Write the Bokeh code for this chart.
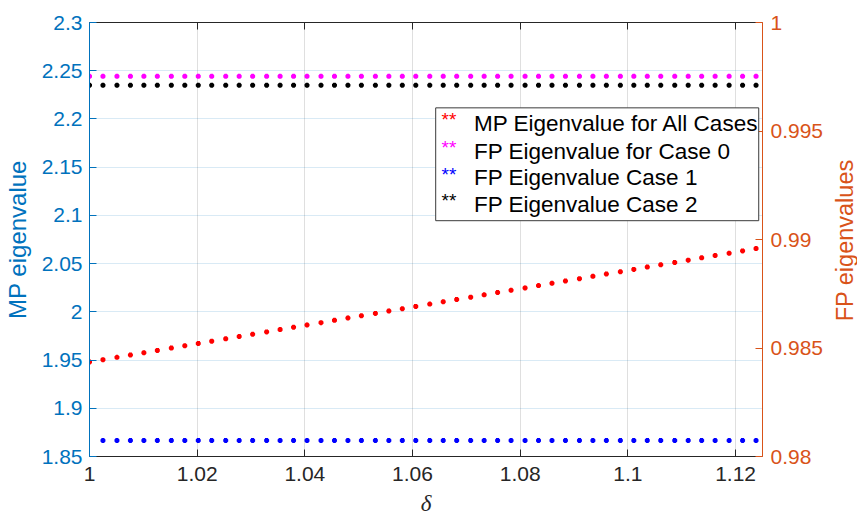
import math
from bokeh.plotting import figure
from bokeh.layouts import row
from bokeh.models import Range1d, LinearAxis, FixedTicker, CustomJSTickFormatter, BoxAnnotation, Label
from bokeh.core.properties import value
from bokeh.embed import file_html
from bokeh.resources import INLINE

# ---- data ----
delta = [1.0000, 1.0025, 1.0051, 1.0076, 1.0101, 1.0126, 1.0152, 1.0177, 1.0202, 1.0227,
         1.0253, 1.0278, 1.0303, 1.0329, 1.0354, 1.0379, 1.0404, 1.0430, 1.0455, 1.0480,
         1.0505, 1.0531, 1.0556, 1.0581, 1.0606, 1.0632, 1.0657, 1.0682, 1.0708, 1.0733,
         1.0758, 1.0783, 1.0809, 1.0834, 1.0859, 1.0884, 1.0910, 1.0935, 1.0960, 1.0986,
         1.1011, 1.1036, 1.1061, 1.1087, 1.1112, 1.1137, 1.1162, 1.1188, 1.1213, 1.1238]
mp_all = [1.9480, 1.9504, 1.9528, 1.9552, 1.9576, 1.9600, 1.9624, 1.9648, 1.9672, 1.9696,
          1.9720, 1.9744, 1.9768, 1.9792, 1.9816, 1.9840, 1.9864, 1.9888, 1.9912, 1.9936,
          1.9960, 1.9984, 2.0008, 2.0032, 2.0056, 2.0080, 2.0104, 2.0128, 2.0152, 2.0176,
          2.0200, 2.0224, 2.0248, 2.0272, 2.0296, 2.0320, 2.0344, 2.0368, 2.0392, 2.0416,
          2.0440, 2.0464, 2.0488, 2.0512, 2.0536, 2.0560, 2.0584, 2.0608, 2.0632, 2.0656]
fp_case0 = [0.99752] * 50
fp_case1 = [0.98074] * 49
delta_case1 = delta[1:]
fp_case2 = [0.99711] * 50

x_ticks = [1.0, 1.02, 1.04, 1.06, 1.08, 1.1, 1.12]
mp_ticks = [1.85, 1.9, 1.95, 2.0, 2.05, 2.1, 2.15, 2.2, 2.25, 2.3]
fp_ticks = [0.98, 0.985, 0.99, 0.995, 1.0]

legend_labels = ["MP Eigenvalue for All Cases", "FP Eigenvalue for Case 0",
                 "FP Eigenvalue Case 1", "FP Eigenvalue Case 2"]
legend_colors = ["#FF0000", "#FF00FF", "#0000FF", "#000000"]
right_title = "FP eigenvalues"

BLUE = "#0072BD"
ORANGE = "#D95319"
DARK = "#262626"
FONT = "Liberation Sans"

W2 = 28  # narrow strip to the right that carries the right axis title

fmt = CustomJSTickFormatter(code="return (Math.round(tick*100000)/100000).toString();")

p = figure(width=857 - W2, height=518, x_range=Range1d(1.0, 1.125), y_range=Range1d(1.85, 2.3),
           output_backend="svg", toolbar_location=None,
           min_border_left=89, min_border_right=857 - W2 - 762, min_border_top=22, min_border_bottom=58)
p.extra_y_ranges = {"fp": Range1d(0.98, 1.0)}
p.background_fill_color = "white"
p.border_fill_color = "white"
p.outline_line_color = None

# bottom axis
xa = p.xaxis[0]
xa.ticker = FixedTicker(ticks=x_ticks)
xa.formatter = fmt
xa.axis_line_color = DARK
xa.major_tick_line_color = DARK
xa.major_tick_in = 7
xa.major_tick_out = 0
xa.minor_tick_line_color = None
xa.major_label_text_color = DARK
xa.major_label_text_font = FONT
xa.major_label_text_font_size = "21px"
xa.major_label_standoff = 10
xa.axis_label = "δ"
xa.axis_label_text_font = "Liberation Serif"
xa.axis_label_text_font_style = "italic"
xa.axis_label_text_font_size = "23px"
xa.axis_label_text_color = DARK
xa.axis_label_standoff = 7

# left axis
ya = p.yaxis[0]
ya.ticker = FixedTicker(ticks=mp_ticks)
ya.formatter = fmt
ya.axis_line_color = BLUE
ya.major_tick_line_color = BLUE
ya.major_tick_in = 7
ya.major_tick_out = 0
ya.minor_tick_line_color = None
ya.major_label_text_color = BLUE
ya.major_label_text_font = FONT
ya.major_label_text_font_size = "21px"
ya.major_label_standoff = 7
ya.axis_label = "MP eigenvalue"
ya.axis_label_text_font = FONT
ya.axis_label_text_font_style = "normal"
ya.axis_label_text_font_size = "24px"
ya.axis_label_text_color = BLUE
ya.axis_label_standoff = 8

# right axis
ra = LinearAxis(y_range_name="fp", ticker=FixedTicker(ticks=fp_ticks), formatter=fmt)
ra.axis_line_color = ORANGE
ra.major_tick_line_color = ORANGE
ra.major_tick_in = 7
ra.major_tick_out = 0
ra.minor_tick_line_color = None
ra.major_label_text_color = ORANGE
ra.major_label_text_font = FONT
ra.major_label_text_font_size = "21px"
ra.major_label_standoff = 8
p.add_layout(ra, "right")

# top axis (box line with inward ticks)
ta = LinearAxis(ticker=FixedTicker(ticks=x_ticks))
ta.axis_line_color = DARK
ta.major_tick_line_color = DARK
ta.major_tick_in = 7
ta.major_tick_out = 0
ta.minor_tick_line_color = None
ta.major_label_text_font_size = "0px"
ta.major_label_standoff = 0
p.add_layout(ta, "above")

# grids
p.xgrid[0].ticker = FixedTicker(ticks=x_ticks)
p.xgrid[0].grid_line_color = DARK
p.xgrid[0].grid_line_alpha = 0.15
p.ygrid[0].ticker = FixedTicker(ticks=mp_ticks)
p.ygrid[0].grid_line_color = BLUE
p.ygrid[0].grid_line_alpha = 0.15

# data
ms = 5
p.scatter(delta, mp_all, marker="asterisk", size=ms, line_color="#FF0000", line_width=2)
p.scatter(delta, fp_case0, marker="asterisk", size=ms, line_color="#FF00FF", line_width=2, y_range_name="fp")
p.scatter(delta_case1, fp_case1, marker="asterisk", size=ms, line_color="#0000FF", line_width=2, y_range_name="fp")
p.scatter(delta, fp_case2, marker="asterisk", size=ms, line_color="#000000", line_width=2, y_range_name="fp")

# legend (drawn manually to mimic the reference box)
p.add_layout(BoxAnnotation(left=1.0643, right=1.1243, top=2.2115, bottom=2.0945,
                           fill_color="white", fill_alpha=1.0, line_color="#3a3a3a",
                           line_width=1, line_alpha=1.0))
row_y = [2.1950, 2.1665, 2.1388, 2.1111]
for lab, col, yy in zip(legend_labels, legend_colors, row_y):
    p.add_layout(Label(x=1.0654, y=yy + 0.004, text="**", text_color=col, text_font=FONT,
                       text_font_size="19px", text_baseline="middle", text_align="left"))
    p.add_layout(Label(x=1.0714, y=yy, text=lab, text_color="#000000", text_font=FONT,
                       text_font_size="22.5px", text_baseline="middle", text_align="left"))

# right strip with the rotated right-axis title (reads bottom to top)
p2 = figure(width=W2, height=518, x_range=Range1d(0, W2), y_range=Range1d(0, 518),
            output_backend="svg", toolbar_location=None, x_axis_type=None, y_axis_type=None,
            min_border_left=0, min_border_right=0, min_border_top=0, min_border_bottom=0)
p2.outline_line_color = None
p2.background_fill_color = "white"
p2.border_fill_color = "white"
p2.text(x=[15], y=[258], text=[right_title], angle=math.pi / 2, text_color=ORANGE,
        text_font=value(FONT), text_font_size="23.5px", text_align="center", text_baseline="middle")

layout = row(p, p2)
open("out.html", "w").write(file_html(layout, INLINE))
